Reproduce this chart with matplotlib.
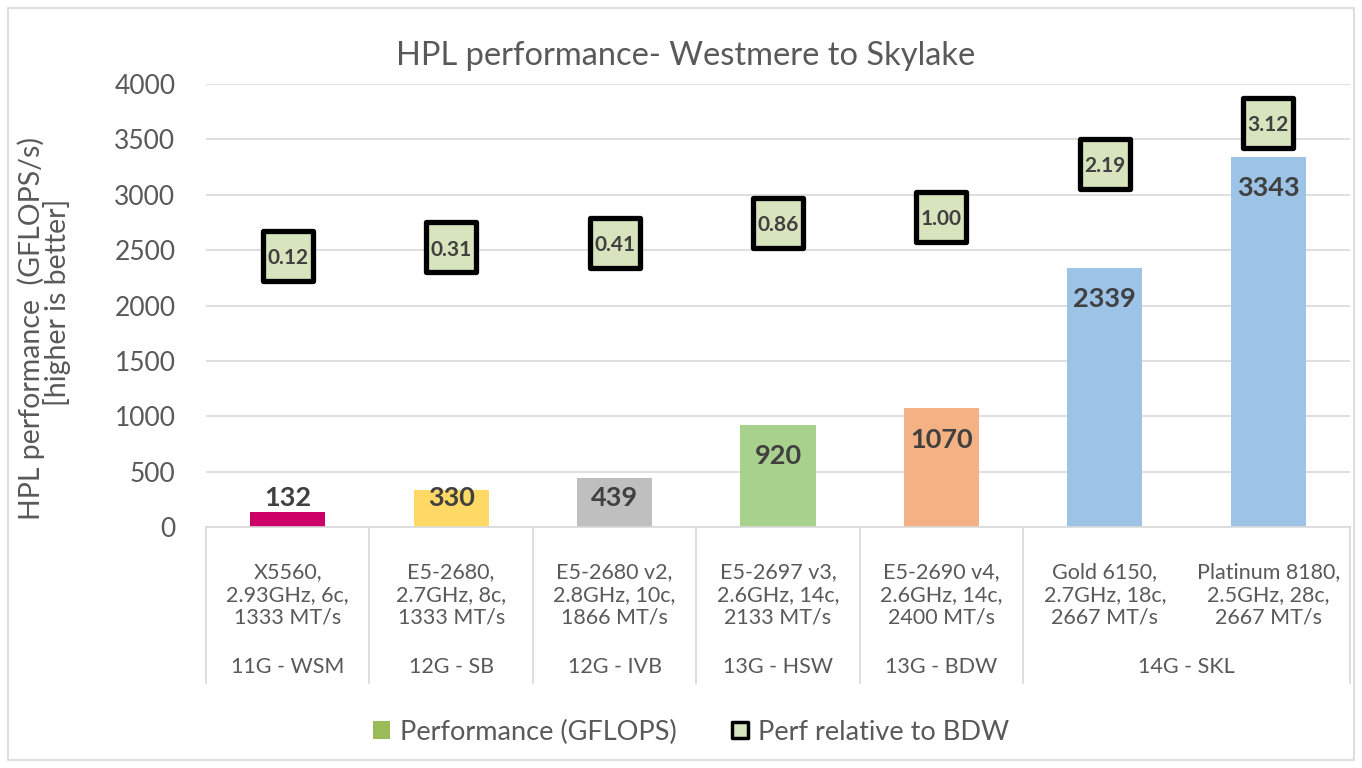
import matplotlib
matplotlib.use("Agg")
import matplotlib.pyplot as plt
from matplotlib.patches import Patch, Rectangle
from matplotlib.lines import Line2D
from matplotlib.markers import MarkerStyle
import matplotlib.transforms as mtransforms

plt.rcParams['font.family'] = ['Lato', 'DejaVu Sans']

# ---- data ----
cpus = ["X5560,\n2.93GHz, 6c,\n1333 MT/s",
        "E5-2680,\n2.7GHz, 8c,\n1333 MT/s",
        "E5-2680 v2,\n2.8GHz, 10c,\n1866 MT/s",
        "E5-2697 v3,\n2.6GHz, 14c,\n2133 MT/s",
        "E5-2690 v4,\n2.6GHz, 14c,\n2400 MT/s",
        "Gold 6150,\n2.7GHz, 18c,\n2667 MT/s",
        "Platinum 8180,\n2.5GHz, 28c,\n2667 MT/s"]
groups = ["11G - WSM", "12G - SB", "12G - IVB", "13G - HSW", "13G - BDW", "14G - SKL"]
group_sizes = [1, 1, 1, 1, 1, 2]
gflops = [132, 330, 439, 920, 1070, 2339, 3343]
relative = [0.12, 0.31, 0.41, 0.86, 1.00, 2.19, 3.12]
bar_colors = ["#CC0066", "#FFD966", "#BFBFBF", "#A9D18E", "#F4B183", "#9DC3E6", "#9DC3E6"]

title = "HPL performance- Westmere to Skylake"
ylabel_lines = ["HPL performance  (GFLOPS/s)", "[higher is better]"]
legend_labels = ["Performance (GFLOPS)", "Perf relative to BDW"]

TXT = "#595959"
GRID = "#D9D9D9"
LBL = "#404040"

W, H = 1362, 768
fig = plt.figure(figsize=(W / 100, H / 100), dpi=100)
fig.patch.set_facecolor("white")

left, right = 206 / W, 1350 / W
bottom, top = 1 - 527 / H, 1 - 84 / H
ax = fig.add_axes([left, bottom, right - left, top - bottom])

x = list(range(len(gflops)))
ax.bar(x, gflops, width=0.46, color=bar_colors, zorder=2)
ax.set_xlim(-0.5, len(gflops) - 0.5)
ax.set_ylim(0, 4000)
ax.set_yticks(range(0, 4001, 500))
ax.tick_params(axis='y', length=0, pad=22, labelsize=19, labelcolor=TXT)
ax.set_xticks([])
ax.grid(axis='y', color=GRID, lw=1.2, zorder=0)
ax.set_axisbelow(True)
for s in ["left", "right", "top"]:
    ax.spines[s].set_visible(False)
ax.spines["bottom"].set_color(GRID)
ax.spines["bottom"].set_linewidth(1.2)

# bar value labels (inside end, clamped for short bars)
for xi, v in zip(x, gflops):
    yc = max(v - 280, 262)
    ax.text(xi, yc, f"{v}", ha='center', va='center', fontsize=19.5,
            fontweight='bold', color=LBL, zorder=3)

# secondary axis with relative perf markers
ax2 = ax.twinx()
ax2.set_ylim(-6, 4)
ax2.axis('off')
ms = MarkerStyle('s', joinstyle='round')
ax2.plot(x, relative, linestyle='none', marker=ms, markersize=36,
         markerfacecolor="#D7E4BD", markeredgecolor="black", markeredgewidth=3.8, zorder=4)
for xi, r in zip(x, relative):
    ax2.text(xi, r - 0.05, f"{r:.2f}", ha='center', va='center', fontsize=15,
             fontweight='bold', color=LBL, zorder=5)

# category table below axis
trans = mtransforms.blended_transform_factory(ax.transData, fig.transFigure)
for xi, lab in zip(x, cpus):
    ax.text(xi, 1 - 595 / H, lab, transform=trans, ha='center', va='center',
            fontsize=15.5, color=TXT, linespacing=1.18, clip_on=False)

y_axis = 1 - 527 / H
y_tab = 1 - 683 / H
edge = -0.5
edges = [edge]
for g, n in zip(groups, group_sizes):
    center = edge + n / 2
    ax.text(center, 1 - 667 / H, g, transform=trans, ha='center', va='center',
            fontsize=15.5, color=TXT, clip_on=False)
    edge += n
    edges.append(edge)
for e in edges:
    fig.add_artist(Line2D([e, e], [y_axis, y_tab], transform=trans, color=GRID, lw=1.2))

# title & y label
fig.text(686 / W, 1 - 56 / H, title, ha='center', va='center', fontsize=23.5, color=TXT)
fig.text(31 / W, 1 - 328 / H, ylabel_lines[0], ha='center', va='center', rotation=90,
         fontsize=20.5, color=TXT)
fig.text(57 / W, 1 - 302 / H, ylabel_lines[1], ha='center', va='center', rotation=90,
         fontsize=20.5, color=TXT)

# legend
handles = [Patch(facecolor="#9BBB59", edgecolor="none"),
           Line2D([], [], linestyle='none', marker=MarkerStyle('s', joinstyle='round'), markersize=11,
                  markerfacecolor="#D7E4BD", markeredgecolor="black", markeredgewidth=2.5)]
leg = fig.legend(handles, legend_labels, loc='center', bbox_to_anchor=(691 / W, 1 - 732 / H),
                 ncol=2, frameon=False, fontsize=19.5, handlelength=0.65, handleheight=0.65,
                 handletextpad=0.35, columnspacing=2.0)
for t in leg.get_texts():
    t.set_color(TXT)

# outer border
fig.add_artist(Rectangle((8 / W, 1 - 760 / H), (1354 - 8) / W, (760 - 8) / H,
                         transform=fig.transFigure, fill=False, edgecolor=GRID, lw=1.2))

fig.savefig("out.png", dpi=100)
